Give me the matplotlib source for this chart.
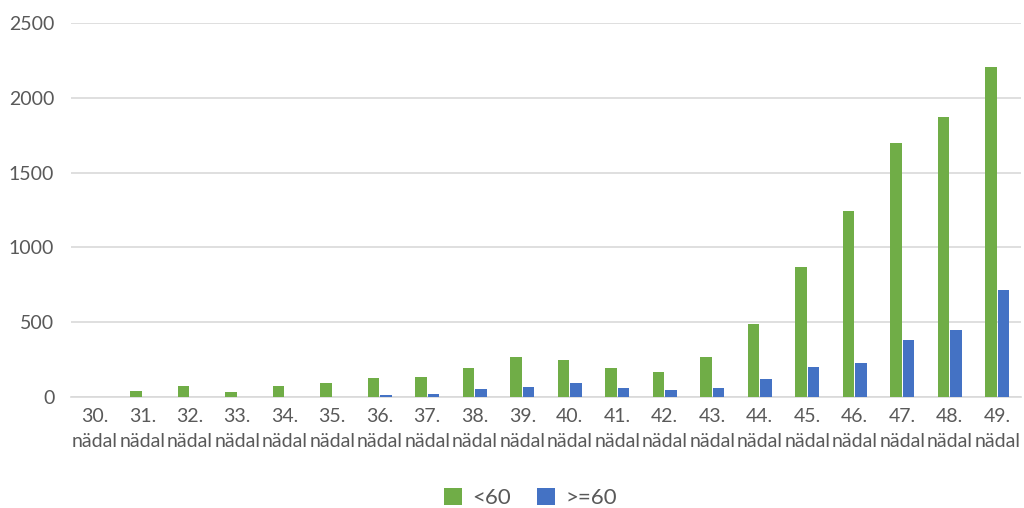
import matplotlib
matplotlib.use("Agg")
import matplotlib.pyplot as plt
import numpy as np

weeks = [f"{w}." for w in range(30, 50)]
under_60 = [2, 40, 72, 31, 74, 92, 130, 134, 194, 270,
            250, 194, 165, 270, 486, 872, 1245, 1700, 1872, 2205]
over_60 = [0, 1, 2, 1, 2, 2, 13, 23, 54, 67,
           92, 63, 49, 63, 120, 203, 225, 384, 446, 715]

plt.rcParams['font.family'] = ['Lato', 'DejaVu Sans']

fig = plt.figure(figsize=(10.24, 5.08), dpi=100)
ax = fig.add_axes([71 / 1024, (508 - 397) / 508, 950 / 1024, 374 / 508])

x = np.arange(len(weeks))
w = 0.235
ax.bar(x - w / 2 - 0.015, under_60, width=w, color="#70AD47", label="<60", zorder=3)
ax.bar(x + w / 2 + 0.015, over_60, width=w, color="#4472C4", label=">=60", zorder=3)

ax.set_xlim(-0.5, len(weeks) - 0.5)
ax.set_ylim(0, 2500)
ax.set_yticks(range(0, 2501, 500))
ax.yaxis.grid(True, color="#D9D9D9", linewidth=1.2, zorder=0)
ax.set_axisbelow(True)
for s in ["top", "right", "left"]:
    ax.spines[s].set_visible(False)
ax.spines["bottom"].set_color("#D9D9D9")
ax.spines["bottom"].set_linewidth(1.2)

ax.set_xticks(x)
ax.set_xticklabels([f"{wk}\nnädal" for wk in weeks], linespacing=1.55)
ax.tick_params(axis="both", length=0, labelsize=14, labelcolor="#595959")
ax.tick_params(axis="x", pad=8)
ax.tick_params(axis="y", pad=12)

fig.legend(loc="lower center", bbox_to_anchor=(0.518, -0.04), ncol=2, frameon=False,
           fontsize=16, labelcolor="#595959", handlelength=0.8, handleheight=0.8,
           handletextpad=0.45, columnspacing=1.2)

fig.savefig("out.png", dpi=100)
